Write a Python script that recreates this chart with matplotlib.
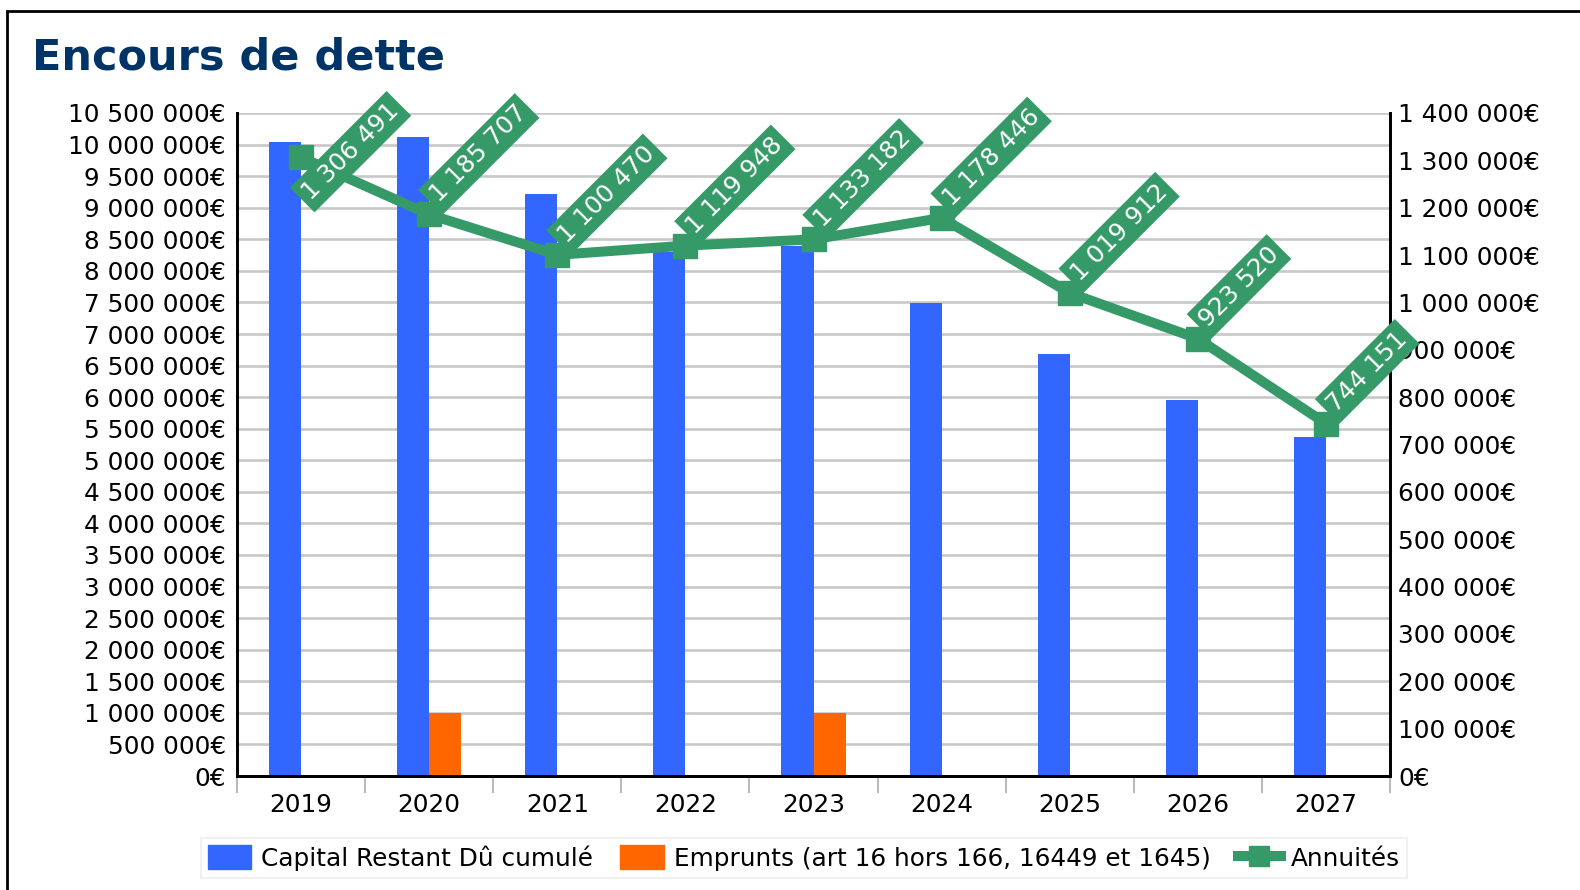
import matplotlib
matplotlib.use("Agg")
import matplotlib.pyplot as plt
from matplotlib.patches import Rectangle
from matplotlib.ticker import FuncFormatter, MultipleLocator, FixedLocator
from matplotlib.lines import Line2D
from matplotlib.patches import Patch
import numpy as np

years = ["2019", "2020", "2021", "2022", "2023", "2024", "2025", "2026", "2027"]
capital = [10040000, 10120000, 9216000, 8297000, 8386000, 7489000, 6686000, 5957000, 5376000]
emprunts = [0, 1000000, 0, 0, 1000000, 0, 0, 0, 0]
annuites = [1306491, 1185707, 1100470, 1119948, 1133182, 1178446, 1019912, 923520, 744151]

BLUE = "#3366FF"
ORANGE = "#FF6600"
GREEN = "#369a68"
NAVY = "#003366"
GRID = "#c8c8c8"
FS = 17.8

W, H = 1580, 890
fig = plt.figure(figsize=(W / 100, H / 100), dpi=100)
plt.rcParams['font.family'] = ['DejaVu Sans']

ax = fig.add_axes([237 / W, 1 - 776 / H, (1390 - 237) / W, (776 - 113) / H])
ax2 = ax.twinx()

x = np.arange(len(years))
bw = 0.25
ax.bar(x - bw / 2, capital, width=bw, color=BLUE, zorder=2, label="Capital Restant Dû cumulé")
ax.bar(x + bw / 2, emprunts, width=bw, color=ORANGE, zorder=2,
       label="Emprunts (art 16 hors 166, 16449 et 1645)")

ax.set_xlim(-0.5, len(years) - 0.5)
ax.set_ylim(0, 10500000)
ax2.set_ylim(0, 1400000)

def eur(v, pos=None):
    return f"{int(round(v)):,}".replace(",", " ") + "€"

ax.yaxis.set_major_locator(MultipleLocator(500000))
ax.yaxis.set_major_formatter(FuncFormatter(eur))
ax2.yaxis.set_major_locator(MultipleLocator(100000))
ax2.yaxis.set_major_formatter(FuncFormatter(eur))

ax.grid(axis="y", color=GRID, lw=1.9, zorder=0)
ax.set_axisbelow(True)

ax.set_xticks(x)
ax.set_xticklabels(years)
ax.xaxis.set_minor_locator(FixedLocator(np.arange(-0.5, len(years), 1.0)))
ax.tick_params(axis="x", which="major", length=0, pad=12, labelsize=FS)
ax.tick_params(axis="x", which="minor", length=12, width=1.5, color="#bbbbbb")
ax.tick_params(axis="y", length=0, pad=8, labelsize=FS)
ax2.tick_params(axis="y", length=0, pad=6, labelsize=FS)

for a in (ax, ax2):
    for s in a.spines.values():
        s.set_linewidth(2)
        s.set_color("black")
    a.spines["top"].set_visible(False)

ax2.plot(x, annuites, color=GREEN, lw=7.2, marker="s", ms=17, zorder=5,
         solid_joinstyle="miter", label="Annuités")

anns = []
for i, v in enumerate(annuites):
    t = ax2.annotate(eur(v)[:-1], xy=(x[i], v), xytext=(5, 16), textcoords="offset pixels",
                     rotation=45, rotation_mode="anchor", ha="left", va="center",
                     color="white", fontsize=FS, zorder=10, annotation_clip=False,
                     bbox=dict(boxstyle="square,pad=0.22", fc=GREEN, ec="none"))
    anns.append(t)

fig.canvas.draw()
limit = H - 91
for t in anns:
    bb = t.get_bbox_patch().get_window_extent()
    if bb.y1 > limit:
        dy = bb.y1 - limit
        xt = t.xyann
        t.xyann = (xt[0], xt[1] - dy)

fig.text(32 / W, 1 - 70 / H, "Encours de dette", fontsize=31, fontweight="bold",
         color=NAVY, va="baseline", ha="left")

handles = [Patch(color=BLUE, label="Capital Restant Dû cumulé"),
           Patch(color=ORANGE, label="Emprunts (art 16 hors 166, 16449 et 1645)"),
           Line2D([0], [0], color=GREEN, lw=7.2, marker="s", ms=14, label="Annuités")]
leg = fig.legend(handles=handles, loc="center", bbox_to_anchor=(804 / W, 1 - 858 / H),
                 ncol=3, fontsize=FS, frameon=True, fancybox=False, edgecolor="#eeeeee",
                 handlelength=1.75, handleheight=1.1, handletextpad=0.4, columnspacing=1.1,
                 borderpad=0.3)
leg.get_frame().set_linewidth(1.5)

fig.patches.append(Rectangle((7 / W, -0.1), 1.2, 1 - 11 / H + 0.1, transform=fig.transFigure,
                             fill=False, ec="black", lw=2, clip_on=False))

fig.savefig("out.png", dpi=100)
